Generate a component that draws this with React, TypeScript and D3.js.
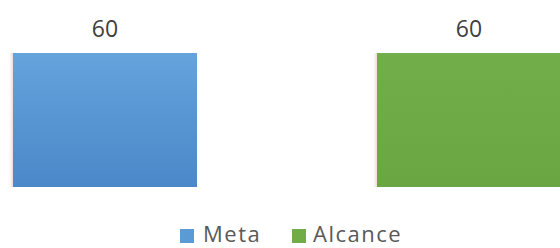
import React from "react";
import * as d3 from "d3";

const categories = ["Meta", "Alcance"];
const values = [60, 60];
const colors = ["#5b9bd5", "#70ad47"];

const W = 560;
const H = 248;

export default function App() {
  const x = d3
    .scaleBand<string>()
    .domain(categories)
    .range([13, 561])
    .paddingInner(0.4945)
    .paddingOuter(0);
  const y = d3.scaleLinear().domain([0, 60]).range([187, 53]);
  const font = "'Open Sans', 'DejaVu Sans', sans-serif";

  const legendItems = [
    { sq: 180, tx: 203 },
    { sq: 292, tx: 313 },
  ];

  return (
    <svg
      width={W}
      height={H}
      style={{ position: "absolute", left: 0, top: 0, background: "#fff" }}
    >
      <defs>
        <linearGradient id="gBlue" x1="0" y1="0" x2="0" y2="1">
          <stop offset="0" stopColor="#64a3dc" />
          <stop offset="1" stopColor="#4a88c9" />
        </linearGradient>
        <linearGradient id="gGreen" x1="0" y1="0" x2="0" y2="1">
          <stop offset="0" stopColor="#72ae49" />
          <stop offset="1" stopColor="#6aa743" />
        </linearGradient>
        <linearGradient id="edge" x1="0" y1="0" x2="1" y2="0">
          <stop offset="0" stopColor="#f3d6d6" stopOpacity="0" />
          <stop offset="1" stopColor="#f0cfcf" stopOpacity="0.8" />
        </linearGradient>
      </defs>
      {categories.map((c, i) => (
        <g key={c}>
          <rect
            x={(x(c) as number) - 4}
            y={y(values[i])}
            width={4}
            height={y(0) - y(values[i])}
            fill="url(#edge)"
          />
          <rect
            x={x(c)}
            y={y(values[i])}
            width={x.bandwidth()}
            height={y(0) - y(values[i])}
            fill={i === 0 ? "url(#gBlue)" : "url(#gGreen)"}
          />
          <text
            x={(x(c) as number) + x.bandwidth() / 2}
            y={y(values[i]) - 16}
            textAnchor="middle"
            fontFamily={font}
            fontSize={23}
            fill="#404040"
          >
            {values[i]}
          </text>
        </g>
      ))}
      {categories.map((c, i) => (
        <g key={"l" + c}>
          <rect x={legendItems[i].sq} y={229} width={14} height={14} fill={colors[i]} />
          <text
            x={legendItems[i].tx}
            y={242}
            fontFamily={font}
            fontSize={22}
            letterSpacing={1.5}
            fill="#595959"
          >
            {c}
          </text>
        </g>
      ))}
    </svg>
  );
}
